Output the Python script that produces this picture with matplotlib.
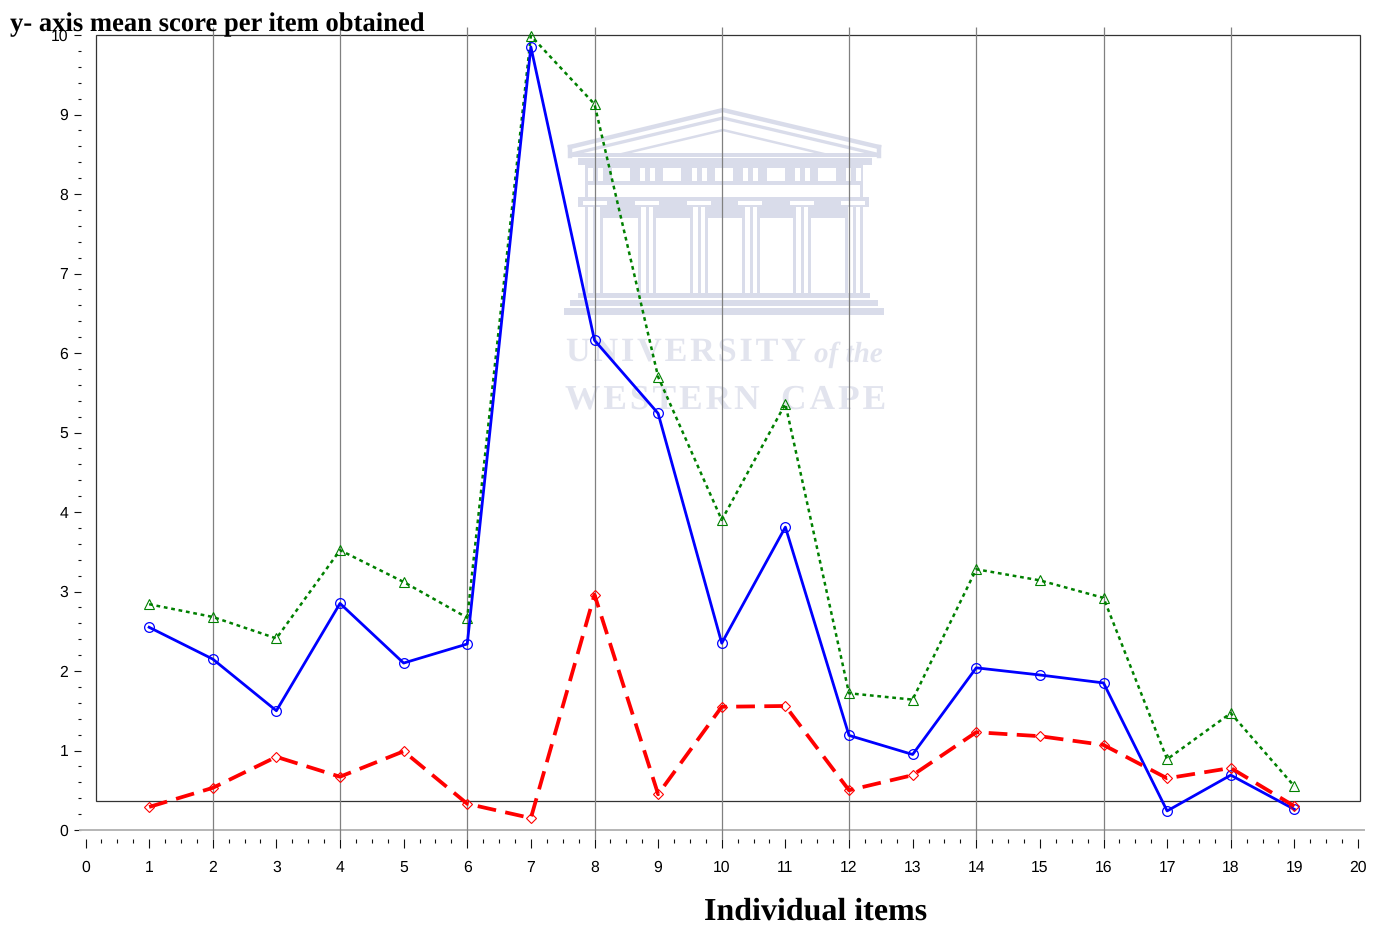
import matplotlib
matplotlib.use("Agg")
import matplotlib.pyplot as plt
from matplotlib.patches import Rectangle
from matplotlib.ticker import MultipleLocator

items = list(range(1, 20))
blue_scores = [2.55, 2.15, 1.50, 2.85, 2.10, 2.34, 9.85, 6.16, 5.24, 2.35, 3.81, 1.19, 0.95, 2.04, 1.95, 1.85, 0.24, 0.69, 0.26]
green_scores = [2.84, 2.68, 2.41, 3.52, 3.12, 2.67, 9.99, 9.13, 5.70, 3.90, 5.36, 1.72, 1.64, 3.28, 3.14, 2.92, 0.89, 1.47, 0.55]
red_scores = [0.29, 0.53, 0.92, 0.67, 0.99, 0.33, 0.15, 2.96, 0.45, 1.55, 1.56, 0.50, 0.69, 1.23, 1.18, 1.07, 0.65, 0.78, 0.30]
grid_items = [2, 4, 6, 8, 10, 12, 14, 16, 18]

W, H = 1380, 926
WM = "#d9dcea"
WM_TEXT = "#e2e4ee"
SERIF = "Liberation Serif"
HAIR = "\u200a"

plt.rcParams["font.family"] = "Liberation Sans"
plt.rcParams["text.hinting"] = "none"
fig = plt.figure(figsize=(W / 100, H / 100), dpi=100)


def box(wm, x0, y0, x1, y1, color=WM):
    wm.add_patch(Rectangle((x0, y0), x1 - x0, y1 - y0, fc=color, ec="none"))


# watermark is drawn in pixel coordinates on its own axes, behind the chart
def drawWatermark():
    wm = fig.add_axes([0, 0, 1, 1], zorder=0)
    wm.set_xlim(0, W)
    wm.set_ylim(H, 0)
    wm.axis("off")
    # roof
    wm.plot([570, 723, 879], [147, 110, 147], c=WM, lw=3.2)
    wm.plot([572, 723, 876], [154, 118, 154], c=WM, lw=2.4)
    wm.plot([622, 723, 824], [154, 130, 154], c=WM, lw=1.8)
    wm.plot([570, 570], [147, 156], c=WM, lw=3.2)
    wm.plot([879, 879], [147, 156], c=WM, lw=3.2)
    box(wm, 572, 153, 877, 157)
    box(wm, 578, 158, 872, 165)
    # frieze with its windows
    box(wm, 585, 165, 863, 185)
    for x in [612, 663, 715, 767, 818]:
        box(wm, x, 168, x + 18, 181, "white")
    for x in [588, 640, 692, 743, 795, 846]:
        box(wm, x, 168, x + 5, 181, "white")
        box(wm, x + 10, 168, x + 15, 181, "white")
    box(wm, 585, 185, 588, 197)
    box(wm, 860, 185, 863, 197)
    # capitals band
    box(wm, 578, 197, 869, 207)
    box(wm, 585, 207, 863, 218)
    for x in [583, 635, 687, 738, 790, 841]:
        box(wm, x, 201, x + 24, 205, "white")
    # columns
    for x in [585, 638, 690, 742, 793, 845]:
        box(wm, x, 207, x + 18, 293, "white")
        for dx in [0, 8, 15]:
            box(wm, x + dx, 207, x + dx + 3, 293)
    # steps
    box(wm, 578, 293, 870, 298)
    box(wm, 570, 300, 878, 306)
    box(wm, 564, 308, 884, 315)
    wm.text(566, 353, HAIR.join("UNIVERSITY"), family=SERIF, weight="bold", size=24.6, color=WM_TEXT, va="center", ha="left")
    wm.text(814, 355, "of the", family=SERIF, style="italic", weight="bold", size=21, color=WM_TEXT, va="center", ha="left")
    wm.text(565, 400, HAIR.join("WESTERN"), family=SERIF, weight="bold", size=25.5, color=WM_TEXT, va="center", ha="left")
    wm.text(781, 400, HAIR.join("CAPE"), family=SERIF, weight="bold", size=25.5, color=WM_TEXT, va="center", ha="left")


drawWatermark()

ax = fig.add_axes([85.5 / W, 1 - 830 / H, (1358 - 85.5) / W, (830 - 35) / H], zorder=1)
ax.patch.set_alpha(0)
ax.set_xlim(0, 20)
ax.set_ylim(0, 10)

for side in ["top", "right", "left", "bottom"]:
    ax.spines[side].set_visible(False)
ax.spines["bottom"].set_position(("outward", 6.5))
ax.spines["left"].set_position(("outward", 3.6))

ax.xaxis.set_major_locator(MultipleLocator(1))
ax.xaxis.set_minor_locator(MultipleLocator(0.25))
ax.yaxis.set_major_locator(MultipleLocator(1))
ax.yaxis.set_minor_locator(MultipleLocator(0.2))
ax.tick_params(axis="x", which="major", length=6.5, width=0.8, pad=9, labelsize=11.3, color="#111111")
ax.tick_params(axis="x", which="minor", length=3, width=0.8, color="#111111")
ax.tick_params(axis="y", which="major", length=4.7, width=0.8, pad=4, labelsize=11.3, color="#111111")
ax.tick_params(axis="y", which="minor", length=2.2, width=0.8, color="#111111")

# plot frame and the zero line
ax.add_patch(Rectangle((0.165, 0.365), 20.03 - 0.165, 10 - 0.365, fc="none", ec="#333333", lw=0.9, clip_on=False, zorder=2))
ax.plot([-0.09, 20.09], [0, 0], c="#b5b5b5", lw=1.4, clip_on=False, zorder=2)
ax.vlines(grid_items, -0.113, 10.1, colors="#808080", lw=0.9, clip_on=False, zorder=2)

ax.plot(items, green_scores, c="green", lw=1.8, ls=(0, (1.5, 1.5)), marker="^", ms=7.5,
        mfc="none", mew=0.8, clip_on=False, zorder=3)
ax.plot(items, blue_scores, c="blue", lw=2, marker="o", ms=7,
        mfc="none", mew=0.9, clip_on=False, zorder=4)
ax.plot(items, red_scores, c="red", lw=2.7, ls=(0, (5, 2.5)), marker="D", ms=5.2,
        mfc="none", mew=0.8, clip_on=False, zorder=5)

fig.text(10 / W, 1 - 25 / H, "y- axis mean score per item obtained", family=SERIF, weight="bold",
         size=19.2, color="black", va="center", ha="left", zorder=5)
fig.text(816 / W, 1 - 912 / H, "Individual items", family=SERIF, weight="bold",
         size=23, color="black", va="center", ha="center", zorder=5)

fig.savefig("out.png", dpi=100)
